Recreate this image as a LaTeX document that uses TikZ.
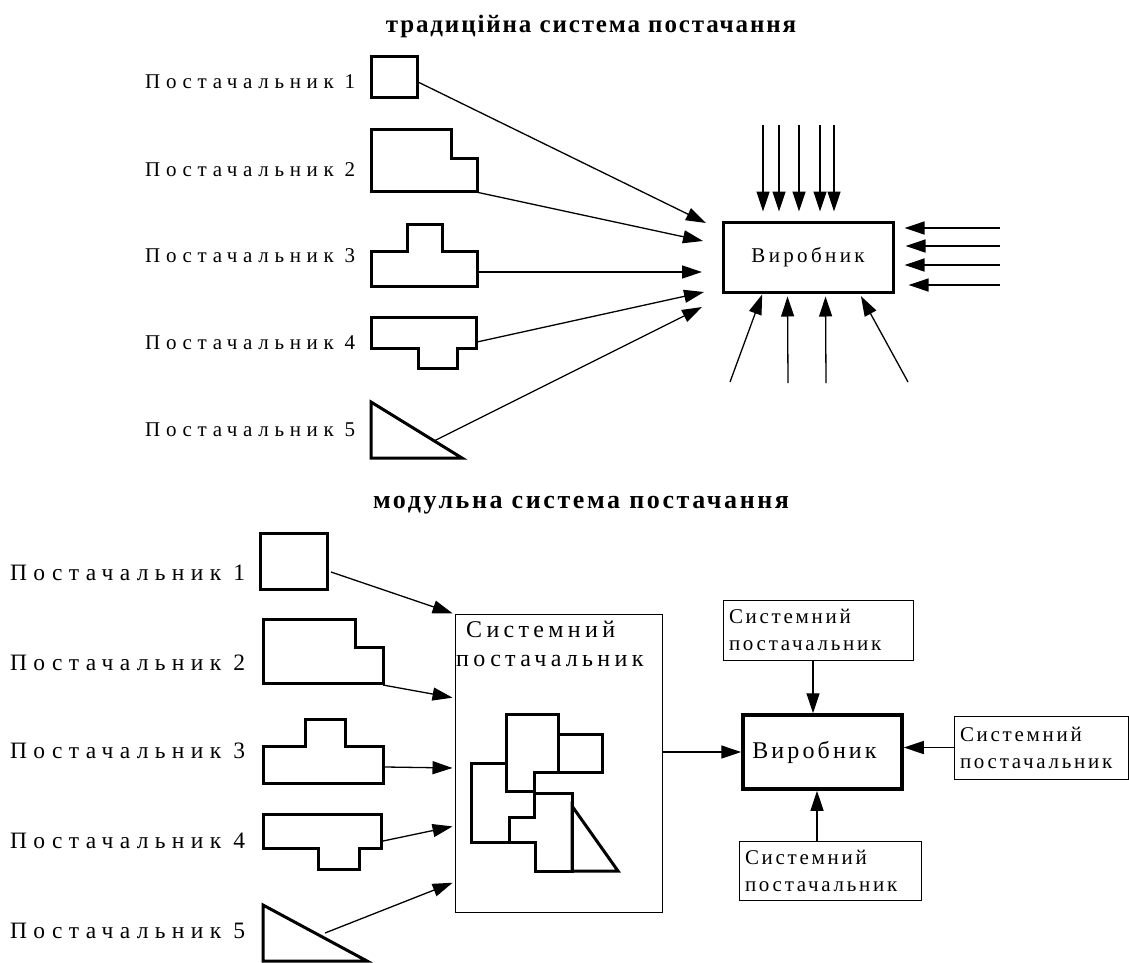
\documentclass[tikz,border=0pt]{standalone}
\usepackage{fontspec}
\setmainfont{Liberation Serif}
\newfontfamily\wideserif[LetterSpace=27]{Liberation Serif}
\newfontfamily\boxserif[LetterSpace=18]{Liberation Serif}
\newfontfamily\midserif[LetterSpace=13]{Liberation Serif}
\newfontfamily\prodserif[LetterSpace=16]{Liberation Serif}
\newfontfamily\headserif[LetterSpace=7.5]{Liberation Serif}
\newfontfamily\headserifb[LetterSpace=10]{Liberation Serif}
\usetikzlibrary{arrows.meta}
\tikzset{
    % outlines of the parts
    piece/.style={line width=3pt},
    arr/.style={line width=1.3pt,-{Triangle[length=20pt,width=13pt]}},
    heading/.style={anchor=base,inner sep=0pt,font=\headserif\bfseries\fontsize{25}{29}\selectfont},
    supplier/.style={anchor=base west,inner sep=0pt,font=\wideserif\fontsize{21}{25}\selectfont},
    producer/.style={draw,line width=3pt,inner sep=0pt,font=\prodserif\fontsize{21}{25}\selectfont},
    sysbox/.style={draw,line width=1pt,inner xsep=6pt,align=left,font=\midserif\fontsize{21}{27}\selectfont}
}
\begin{document}
\begin{tikzpicture}[x=1pt,y=-1pt]
    \useasboundingbox (0,0) rectangle (1129,963);

    % ---------- traditional supply ----------
    \node[heading] (headA) at (591,33) {традиційна система постачання};
    \foreach \i/\y in {1/89,2/176,3/262,4/349,5/436}
        \node[supplier] (ta\i) at (145,\y) {Постачальник \i};

    \draw[piece] (371,57) rectangle (417,98);
    \draw[piece] (371,130) -- (451,130) -- (451,158) -- (477,158) -- (477,191) -- (371,191) -- cycle;
    \draw[piece] (371,251) -- (407,251) -- (407,224) -- (442,224) -- (442,251) -- (477,251) -- (477,286) -- (371,286) -- cycle;
    \draw[piece] (371,317) -- (476,317) -- (476,348) -- (457,348) -- (457,368) -- (418,368) -- (418,348) -- (371,348) -- cycle;
    \draw[piece] (371,402) -- (462,458) -- (371,458) -- cycle;

    \node[producer,minimum width=170pt,minimum height=70pt] (prodA) at (808,257) {Виробник};

    \coordinate (ca1) at (418,82);
    \coordinate (ca2) at (476,192);
    \coordinate (ca3) at (477,272);
    \coordinate (ca4) at (477,342);
    \coordinate (ca5) at (434,441);
    \coordinate (ea1) at (706,223);
    \coordinate (ea2) at (703,241);
    \coordinate (ea3) at (702,272);
    \coordinate (ea4) at (704,292);
    \coordinate (ea5) at (702,307);
    \foreach \i in {1,...,5}
        \draw[arr] (ca\i) -- (ea\i);

    % other flows into the producer
    \foreach \x in {763,779,799,820,834}
        \draw[arr,shorten >=9pt] (\x,125) -- (\x,0 |- prodA.north);
    \foreach \y/\s in {228/10,246/11,265/10,285/14}
        \draw[arr,shorten >=\s pt] (1000,\y) -- (prodA.east |- 0,\y);
    \draw[arr,shorten >=1pt] (730,382) -- ([xshift=41pt]prodA.south west);
    \draw[arr,shorten >=3pt] (788,383) -- ([xshift=66pt]prodA.south west);
    \draw[arr,shorten >=3pt] (826,383) -- ([xshift=104pt]prodA.south west);
    \draw[arr,shorten >=3pt] (908,382) -- ([xshift=138pt]prodA.south west);

    % ---------- modular supply ----------
    \node[heading,font=\headserifb\bfseries\fontsize{26}{30}\selectfont] (headB) at (581,508) {модульна система постачання};
    \foreach \i/\y in {1/580,2/670,3/758,4/848,5/938}
        \node[supplier,font=\wideserif\fontsize{23.5}{27}\selectfont] (tb\i) at (10,\y) {Постачальник \i};

    \draw[piece] (260,533) rectangle (327,589);
    \draw[piece] (263,619) -- (355,619) -- (355,647) -- (383,647) -- (383,683) -- (263,683) -- cycle;
    \draw[piece] (263,746) -- (305,746) -- (305,719) -- (345,719) -- (345,746) -- (383,746) -- (383,783) -- (263,783) -- cycle;
    \draw[piece] (263,814) -- (381,814) -- (381,848) -- (359,848) -- (359,869) -- (318,869) -- (318,848) -- (263,848) -- cycle;
    \draw[piece] (263,905) -- (367,961) -- (263,961) -- cycle;

    \node[draw,line width=1pt,inner sep=0pt,minimum width=207pt,minimum height=298pt] (sys) at (558.5,763) {};
    \node[anchor=base west,inner sep=0pt,text width=200pt,align=left,font=\boxserif\fontsize{24}{29}\selectfont]
        (systxt) at (456,637) {\hspace{10pt}Системний\\постачальник};

    % assembled set inside the system supplier
    \draw[piece] (506,714) -- (558,714) -- (558,772) -- (534,772) -- (534,791) -- (506,791) -- cycle;
    \draw[piece] (558,734) rectangle (602,772);
    \draw[piece] (471,763) -- (506,763) -- (506,791) -- (534,791) -- (534,817) -- (509,817) -- (509,842) -- (471,842) -- cycle;
    \draw[piece] (534,793) -- (572,793) -- (572,871) -- (535,871) -- (535,842) -- (509,842) -- (509,817) -- (534,817) -- cycle;
    \draw[piece] (572,806) -- (618,871) -- (572,871) -- cycle;

    \coordinate (cb1) at (331,572);
    \coordinate (cb2) at (383,685);
    \coordinate (cb3) at (385,767);
    \coordinate (cb4) at (383,841);
    \coordinate (cb5) at (325,933);
    \foreach \i/\y in {1/614,2/698,3/768,4/826,5/882}
        \draw[arr,shorten >=2pt] (cb\i) -- (sys.west |- 0,\y);

    \node[producer,line width=3.5pt,minimum width=159pt,minimum height=74pt,font=\midserif\fontsize{24}{28}\selectfont]
        (prodB) at (822.5,752) {Виробник\kern16pt};
    \node[sysbox,text width=178pt,minimum height=60pt] (sysN) at (818,630) {Системний\\постачальник};
    \node[sysbox,text width=162pt,minimum height=63pt] (sysE) at (1041,747.5) {Системний\\постачальник};
    \node[sysbox,text width=170pt,minimum height=59pt] (sysS) at (830,870.5) {Системний\\постачальник};

    \draw[arr] (sys.east |- prodB) -- (prodB.west);
    \draw[arr] ([xshift=-5pt]sysN.south) -- ([xshift=-5pt]sysN.south |- prodB.north);
    \draw[arr] (sysE.west) -- (prodB.east |- sysE.west);
    \draw[arr] ([xshift=-13pt]sysS.north) -- ([xshift=-13pt]sysS.north |- prodB.south);
\end{tikzpicture}
\end{document}
